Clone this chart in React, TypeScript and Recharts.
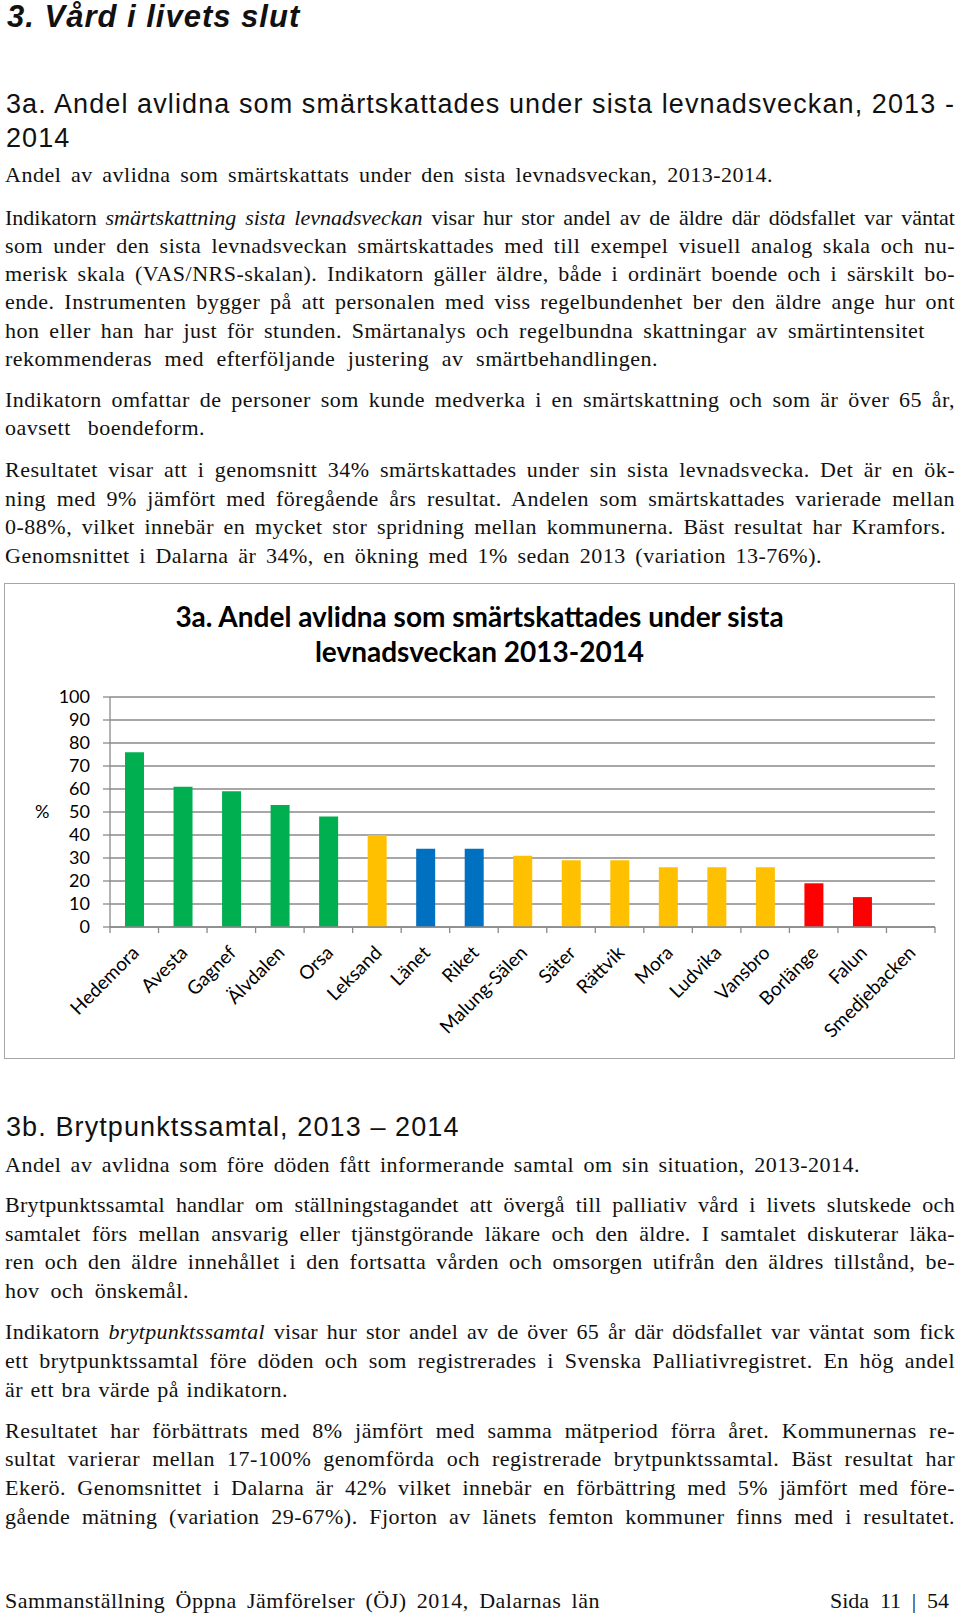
import React from 'react';
import { BarChart, Bar, XAxis, YAxis, CartesianGrid, Cell } from 'recharts';

// chart data
const CATEGORIES = [
  'Hedemora', 'Avesta', 'Gagnef', 'Älvdalen', 'Orsa', 'Leksand', 'Länet', 'Riket',
  'Malung-Sälen', 'Säter', 'Rättvik', 'Mora', 'Ludvika', 'Vansbro', 'Borlänge', 'Falun', 'Smedjebacken',
];
const VALUES = [76, 61, 59, 53, 48, 40, 34, 34, 31, 29, 29, 26, 26, 26, 19, 13, 0];
const GROUPS = [
  'good', 'good', 'good', 'good', 'good', 'mid', 'ref', 'ref',
  'mid', 'mid', 'mid', 'mid', 'mid', 'mid', 'low', 'low', 'low',
];
const Y_TICKS = [0, 10, 20, 30, 40, 50, 60, 70, 80, 90, 100];
const CHART_TITLE = ['3a. Andel avlidna som smärtskattades under sista', 'levnadsveckan 2013-2014'];

const GROUP_COLORS: Record<string, string> = {
  good: '#00B050',
  mid: '#FFC000',
  ref: '#0070C0',
  low: '#FF0000',
};

const GRID = '#8a8a8a';
const SERIF = '"Liberation Serif", "Times New Roman", serif';
const SANS = '"Liberation Sans", Arial, sans-serif';
const CHART_FONT = 'Lato, "Open Sans", sans-serif';
const BODY_SIZE = 22;

const CHART_W = 949;
const CHART_H = 474;
const MARGIN = { top: 113, right: 19, bottom: 0, left: 0 };
const Y_AXIS_W = 105;
const BAND = (CHART_W - MARGIN.left - MARGIN.right - Y_AXIS_W) / CATEGORIES.length;

const chartData = CATEGORIES.map((name, i) => ({ name, value: VALUES[i], group: GROUPS[i] }));

type Seg = string | { i: string };
interface TextLine {
  segs: Seg[];
  base: number;
  right?: number;
  ls?: number;
}

const J = 955;

// page text, line by line as in the report
const TEXT_LINES: TextLine[] = [
  { segs: ['Andel av avlidna som smärtskattats under den sista levnadsveckan, 2013-2014.'], base: 182, right: 773 },
  { segs: ['Indikatorn ', { i: 'smärtskattning sista levnadsveckan' }, ' visar hur stor andel av de äldre där dödsfallet var väntat'], base: 225, right: J, ls: 0 },
  { segs: ['som under den sista levnadsveckan smärtskattades med till exempel visuell analog skala och nu-'], base: 253, right: J },
  { segs: ['merisk skala (VAS/NRS-skalan). Indikatorn gäller äldre, både i ordinärt boende och i särskilt bo-'], base: 281, right: J },
  { segs: ['ende. Instrumenten bygger på att personalen med viss regelbundenhet ber den äldre ange hur ont'], base: 309, right: J },
  { segs: ['hon eller han har just för stunden. Smärtanalys och regelbundna skattningar av smärtintensitet'], base: 338, right: 925 },
  { segs: ['rekommenderas med efterföljande justering av smärtbehandlingen.'], base: 366, right: 658 },
  { segs: ['Indikatorn omfattar de personer som kunde medverka i en smärtskattning och som är över 65 år,'], base: 407, right: J },
  { segs: ['oavsett boendeform.'], base: 435, right: 205 },
  { segs: ['Resultatet visar att i genomsnitt 34% smärtskattades under sin sista levnadsvecka. Det är en ök-'], base: 477, right: J },
  { segs: ['ning med 9% jämfört med föregående års resultat. Andelen som smärtskattades varierade mellan'], base: 506, right: J },
  { segs: ['0-88%, vilket innebär en mycket stor spridning mellan kommunerna. Bäst resultat har Kramfors.'], base: 534, right: 946 },
  { segs: ['Genomsnittet i Dalarna är 34%, en ökning med 1% sedan 2013 (variation 13-76%).'], base: 563, right: 822 },
  { segs: ['Andel av avlidna som före döden fått informerande samtal om sin situation, 2013-2014.'], base: 1172, right: 860 },
  { segs: ['Brytpunktssamtal handlar om ställningstagandet att övergå till palliativ vård i livets slutskede och'], base: 1212, right: J, ls: 0.3 },
  { segs: ['samtalet förs mellan ansvarig eller tjänstgörande läkare och den äldre. I samtalet diskuterar läka-'], base: 1241, right: J, ls: 0.3 },
  { segs: ['ren och den äldre innehållet i den fortsatta vården och omsorgen utifrån den äldres tillstånd, be-'], base: 1269, right: J },
  { segs: ['hov och önskemål.'], base: 1298, right: 189 },
  { segs: ['Indikatorn ', { i: 'brytpunktssamtal' }, ' visar hur stor andel av de över 65 år där dödsfallet var väntat som fick'], base: 1339, right: J, ls: 0.3 },
  { segs: ['ett brytpunktssamtal före döden och som registrerades i Svenska Palliativregistret. En hög andel'], base: 1368, right: J },
  { segs: ['är ett bra värde på indikatorn.'], base: 1397, right: 288 },
  { segs: ['Resultatet har förbättrats med 8% jämfört med samma mätperiod förra året. Kommunernas re-'], base: 1438, right: J },
  { segs: ['sultat varierar mellan 17-100% genomförda och registrerade brytpunktssamtal. Bäst resultat har'], base: 1466, right: J },
  { segs: ['Ekerö. Genomsnittet i Dalarna är 42% vilket innebär en förbättring med 5% jämfört med före-'], base: 1495, right: J },
  { segs: ['gående mätning (variation 29-67%). Fjorton av länets femton kommuner finns med i resultatet.'], base: 1524, right: J },
  { segs: ['Sammanställning Öppna Jämförelser (ÖJ) 2014, Dalarnas län'], base: 1608, right: 600 },
];

const HEADINGS = [
  { text: '3a. Andel avlidna som smärtskattades under sista levnadsveckan, 2013 -', base: 114 },
  { text: '2014', base: 148 },
  { text: '3b. Brytpunktssamtal, 2013 – 2014', base: 1137 },
];

function BodyLine({ line, left = 5, size = BODY_SIZE }: { line: TextLine; left?: number; size?: number }) {
  const top = line.base - 0.8375 * size;
  const width = (line.right ?? 955) - left;
  return (
    <div
      style={{
        position: 'absolute',
        left,
        top,
        width,
        fontFamily: SERIF,
        fontSize: size,
        letterSpacing: line.ls ?? 0.5,
        lineHeight: 1,
        color: '#111',
        textAlign: 'justify',
        textAlignLast: 'justify',
      }}
    >
      {line.segs.map((s, k) =>
        typeof s === 'string' ? <span key={k}>{s}</span> : <i key={k}>{s.i}</i>
      )}
    </div>
  );
}

function CategoryTick(props: any) {
  const { x, y, payload, index } = props;
  const half = BAND / 2;
  const bx = x + 6;
  const by = y + 27;
  return (
    <g>
      <line x1={x - half} y1={y} x2={x - half} y2={y + 6} stroke={GRID} strokeWidth={1.3} />
      {index === CATEGORIES.length - 1 && (
        <line x1={x + half} y1={y} x2={x + half} y2={y + 6} stroke={GRID} strokeWidth={1.3} />
      )}
      <text
        x={bx}
        y={by}
        textAnchor="end"
        transform={`rotate(-45, ${bx}, ${by})`}
        fill="#000"
        fontSize={19}
        fontFamily={CHART_FONT}
      >
        {payload.value}
      </text>
    </g>
  );
}

function PainChart() {
  return (
    <div
      style={{
        position: 'absolute',
        left: 4,
        top: 583,
        width: CHART_W,
        height: CHART_H,
        border: '1px solid #a6a6a6',
        background: '#fff',
      }}
    >
      {CHART_TITLE.map((t, i) => (
        <div
          key={t}
          style={{
            position: 'absolute',
            left: 0,
            width: CHART_W,
            top: 15 + i * 35,
            textAlign: 'center',
            fontFamily: CHART_FONT,
            fontWeight: 700,
            fontSize: 28,
            lineHeight: '35px',
            color: '#000',
            whiteSpace: 'nowrap',
          }}
        >
          {t}
        </div>
      ))}
      <BarChart width={CHART_W} height={CHART_H} data={chartData} margin={MARGIN} barSize={19}>
        <CartesianGrid vertical={false} stroke={GRID} strokeWidth={1.3} />
        <XAxis
          dataKey="name"
          interval={0}
          height={CHART_H - MARGIN.top - 230}
          axisLine={{ stroke: GRID, strokeWidth: 1.3 }}
          tickLine={false}
          tickSize={0}
          tickMargin={0}
          tick={<CategoryTick />}
        />
        <YAxis
          width={Y_AXIS_W}
          domain={[0, 100]}
          ticks={Y_TICKS}
          interval={0}
          axisLine={{ stroke: GRID, strokeWidth: 1.3 }}
          tickLine={{ stroke: GRID, strokeWidth: 1.3 }}
          tickSize={7}
          tickMargin={13}
          tick={{ fill: '#000', fontSize: 18, fontFamily: CHART_FONT }}
          label={{ value: '%', position: 'insideLeft', offset: 30, fill: '#000', fontSize: 18, fontFamily: CHART_FONT }}
        />
        <Bar dataKey="value" isAnimationActive={false}>
          {chartData.map((d) => (
            <Cell key={d.name} fill={GROUP_COLORS[d.group]} />
          ))}
        </Bar>
      </BarChart>
    </div>
  );
}

export default function App() {
  return (
    <div
      style={{
        position: 'absolute',
        left: 0,
        top: 0,
        width: 960,
        height: 1616,
        background: '#fff',
        overflow: 'hidden',
      }}
    >
      <div
        style={{
          position: 'absolute',
          left: 7,
          top: 27 - 0.8465 * 31,
          fontFamily: SANS,
          fontSize: 31,
          fontWeight: 700,
          fontStyle: 'italic',
          letterSpacing: 1,
          lineHeight: 1,
          color: '#111',
          whiteSpace: 'nowrap',
        }}
      >
        3. Vård i livets slut
      </div>
      {HEADINGS.map((h) => (
        <div
          key={h.text}
          style={{
            position: 'absolute',
            left: 6,
            top: h.base - 0.8465 * 27,
            fontFamily: SANS,
            fontSize: 27,
            letterSpacing: 1.1,
            lineHeight: 1,
            color: '#111',
            whiteSpace: 'nowrap',
          }}
        >
          {h.text}
        </div>
      ))}
      {TEXT_LINES.map((l) => (
        <BodyLine key={l.base} line={l} />
      ))}
      <div
        style={{
          position: 'absolute',
          left: 830,
          width: 119,
          top: 1608 - 0.8375 * BODY_SIZE,
          fontFamily: SERIF,
          fontSize: BODY_SIZE,
          lineHeight: 1,
          color: '#111',
          textAlign: 'justify',
          textAlignLast: 'justify',
        }}
      >
        Sida 11 | 54
      </div>
      <PainChart />
    </div>
  );
}
